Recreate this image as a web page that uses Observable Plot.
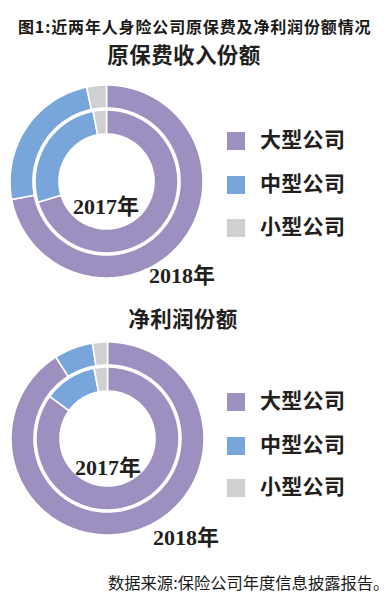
<!DOCTYPE html>
<html><head><meta charset="utf-8">
<script src="https://cdn.jsdelivr.net/npm/d3@7"></script>
<script src="https://cdn.jsdelivr.net/npm/@observablehq/plot@0.6"></script>
<style>
body{margin:0;background:#fff;}
#page{position:relative;width:390px;height:597px;overflow:hidden;background:#fff;color:#231f20;font-family:"Liberation Serif","Noto Sans CJK SC",serif;}
.abs{position:absolute;white-space:nowrap;line-height:1;}
.c{transform:translate(-50%,-50%);}
.header{font-family:"Noto Sans CJK SC",sans-serif;font-weight:bold;font-size:16px;letter-spacing:0.85px;left:18px;top:18px;color:#1b1a17;}
.title{font-weight:bold;font-size:21.5px;letter-spacing:0.4px;}
.yr{font-weight:bold;font-size:22px;}
.lg{font-weight:bold;font-size:21px;letter-spacing:0.3px;}
.sw{width:18px;height:18px;}
.footer{font-family:"Noto Sans CJK SC",sans-serif;font-size:16.3px;left:108px;top:574px;color:#1a1a1a;}
.chart{position:absolute;}
</style>
</head><body>
<div id="page"></div>
<script>
// ---- data ----
const categories = ["大型公司", "中型公司", "小型公司"];
const years = ["2018年", "2017年"];           // outer ring, inner ring
const premium2018 = [72.0, 24.7, 3.3];        // 原保费收入份额 (%)
const premium2017 = [70.3, 26.7, 3.0];
const profit2018 = [91.0, 6.5, 2.5];          // 净利润份额 (%)
const profit2017 = [85.0, 12.0, 3.0];
const chartTitles = ["原保费收入份额", "净利润份额"];
const headerText = "图1:近两年人身险公司原保费及净利润份额情况";
const sourceText = "数据来源:保险公司年度信息披露报告。";

const colors = ["#9d90c1", "#79a6da", "#d0d0d2"];
const page = document.getElementById("page");

function addText(cls, text, style) {
  const d = document.createElement("div");
  d.className = "abs " + cls;
  d.textContent = text;
  Object.assign(d.style, style || {});
  page.appendChild(d);
  return d;
}

// build ring polygons from the data values
function ringPoints(values, r0, r1, ring) {
  const total = d3.sum(values);
  const pts = [];
  let acc = 0;
  values.forEach((v, i) => {
    const a0 = acc / total * 2 * Math.PI;
    const a1 = (acc + v) / total * 2 * Math.PI;
    acc += v;
    const n = Math.max(2, Math.ceil((a1 - a0) / (Math.PI / 180)));
    const id = ring + "-" + i;
    for (let k = 0; k <= n; k++) {
      const t = a0 + (a1 - a0) * k / n;
      pts.push({id, cat: categories[i], x: r1 * Math.sin(t), y: r1 * Math.cos(t)});
    }
    for (let k = n; k >= 0; k--) {
      const t = a0 + (a1 - a0) * k / n;
      pts.push({id, cat: categories[i], x: r0 * Math.sin(t), y: r0 * Math.cos(t)});
    }
  });
  return pts;
}

function donut(outerVals, innerVals) {
  const pts = ringPoints(outerVals, 73.5, 96.5, years[0])
    .concat(ringPoints(innerVals, 47.5, 71.5, years[1]));
  return Plot.plot({
    width: 212, height: 212,
    margin: 0,
    x: {domain: [-106, 106], axis: null},
    y: {domain: [-106, 106], axis: null},
    color: {domain: categories, range: colors},
    marks: [
      Plot.line(pts, {x: "x", y: "y", z: "id", fill: "cat", stroke: "white", strokeWidth: 1.6, curve: "linear-closed"})
    ]
  });
}

function legend(cy) {
  categories.forEach((c, i) => {
    const y = cy[i];
    const sw = document.createElement("div");
    sw.className = "abs sw";
    Object.assign(sw.style, {left: "227px", top: (y - 9) + "px", background: colors[i]});
    page.appendChild(sw);
    addText("lg", c, {left: "260px", top: (y - 11) + "px"});
  });
}

addText("header", headerText);
addText("title c", chartTitles[0], {left: "184px", top: "57px"});
addText("title c", chartTitles[1], {left: "183px", top: "321px"});

const c1 = donut(premium2018, premium2017);
c1.classList.add("chart");
Object.assign(c1.style, {left: "0px", top: "75px"});
page.appendChild(c1);

const c2 = donut(profit2018, profit2017);
c2.classList.add("chart");
Object.assign(c2.style, {left: "1px", top: "332px"});
page.appendChild(c2);

legend([141, 185, 228]);
legend([402, 446, 488]);

addText("yr c", years[1], {left: "106px", top: "207px"});
addText("yr c", years[0], {left: "182px", top: "276px"});
addText("yr c", years[1], {left: "108px", top: "468px"});
addText("yr c", years[0], {left: "186px", top: "538px"});

addText("footer", sourceText);
</script>
</body></html>
